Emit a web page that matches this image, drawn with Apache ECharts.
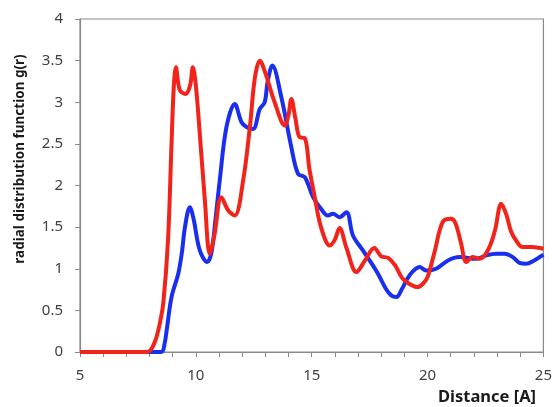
<!DOCTYPE html>
<html>
<head>
<meta charset="utf-8">
<script src="https://cdn.jsdelivr.net/npm/echarts@6/dist/echarts.min.js"></script>
<style>html,body{margin:0;padding:0;background:#fff}#c{width:555px;height:407px}</style>
</head>
<body>
<div id="c"></div>
<script>
var redX = [5,7.9,8.2,8.45,8.6,8.8,8.95,9.05,9.14,9.3,9.55,9.75,9.87,10.0,10.17,10.39,10.6,10.8,11.1,11.4,11.68,12.04,12.33,12.55,12.76,13.0,13.4,13.84,14.0,14.12,14.3,14.48,14.7,14.9,15.13,15.4,15.78,16.0,16.2,16.5,16.93,17.3,17.7,18.0,18.3,18.6,18.9,19.2,19.57,19.8,20.0,20.3,20.65,21.0,21.2,21.45,21.67,21.95,22.24,22.6,22.9,23.18,23.4,23.6,23.82,24.1,24.5,25];
var redY = [0,0,0.1,0.35,0.6,1.35,2.5,3.2,3.42,3.15,3.1,3.2,3.42,3.2,2.62,1.82,1.18,1.4,1.86,1.7,1.64,2.06,2.7,3.3,3.5,3.35,3.0,2.72,2.85,3.04,2.8,2.58,2.57,2.2,1.86,1.5,1.28,1.35,1.49,1.25,0.96,1.1,1.25,1.15,1.13,1.04,0.89,0.82,0.78,0.82,0.9,1.2,1.56,1.6,1.55,1.3,1.08,1.14,1.12,1.22,1.45,1.78,1.65,1.45,1.34,1.26,1.26,1.24];
var blueX = [5,8.5,8.65,8.74,8.95,9.24,9.4,9.53,9.74,9.9,10.17,10.49,10.67,10.85,11.03,11.32,11.68,11.97,12.2,12.47,12.76,12.97,13.1,13.3,13.69,14.12,14.41,14.7,15.06,15.4,15.7,15.92,16.2,16.5,16.78,17.21,17.5,17.86,18.2,18.43,18.65,18.9,19.22,19.66,19.94,20.37,20.88,21.38,22.1,22.53,22.96,23.32,23.68,23.97,24.25,24.6,25];
var blueY = [0,0,0.1,0.26,0.66,0.94,1.2,1.5,1.74,1.6,1.22,1.08,1.19,1.6,2.06,2.7,2.98,2.76,2.7,2.68,2.92,3.0,3.25,3.44,3.06,2.46,2.14,2.1,1.86,1.72,1.64,1.66,1.62,1.68,1.4,1.22,1.1,0.94,0.76,0.68,0.66,0.76,0.92,1.02,0.98,1.0,1.1,1.14,1.12,1.16,1.18,1.18,1.14,1.07,1.06,1.1,1.17];
var xTicks = [5,10,15,20,25];
var yTitle = 'radial distribution function g(r)';
var xTitle = 'Distance [A]';

function pairs(xs, ys){ return xs.map(function(x,i){ return [x, ys[i]]; }); }

var font = 'Noto Sans';
var chart = echarts.init(document.getElementById('c'), null, {renderer:'canvas'});
chart.setOption({
  animation:false,
  backgroundColor:'#fff',
  grid:{left:80, top:19, right:11, bottom:55, show:true, borderColor:'#8a8a8a', borderWidth:1.2},
  xAxis:{
    type:'value', min:5, max:25, interval:5,
    axisLine:{lineStyle:{color:'#8a8a8a', width:1.2}},
    axisTick:{show:true, length:5, lineStyle:{color:'#8a8a8a'}},
    minorTick:{show:true, splitNumber:5, length:5, lineStyle:{color:'#8a8a8a'}},
    splitLine:{show:false},
    axisLabel:{margin:16, fontSize:15, color:'#404040', fontFamily:font,
      formatter:function(v){ return xTicks.indexOf(v) >= 0 ? String(v) : ''; }}
  },
  yAxis:{
    type:'value', min:0, max:4, interval:0.5,
    axisLine:{show:true, lineStyle:{color:'#8a8a8a', width:1.2}},
    axisTick:{show:true, length:5, lineStyle:{color:'#8a8a8a'}},
    splitLine:{show:false},
    axisLabel:{margin:17, fontSize:15, color:'#404040', fontFamily:font}
  },
  graphic:[
    {type:'text', x:20, y:159, rotation:Math.PI/2,
      style:{text:yTitle, fill:'#1a1a1a', font:'bold 13.5px "Noto Sans"', textAlign:'center', textVerticalAlign:'middle'}},
    {type:'text', x:487, y:397,
      style:{text:xTitle, fill:'#1a1a1a', font:'bold 16.5px "Noto Sans"', textAlign:'center', textVerticalAlign:'middle'}}
  ],
  series:[
    {type:'line', data:pairs(blueX, blueY), smooth:0.35, showSymbol:false, symbol:'none',
      lineStyle:{color:'#1a2ef0', width:4}},
    {type:'line', data:pairs(redX, redY), smooth:0.35, showSymbol:false, symbol:'none',
      lineStyle:{color:'#f2231a', width:4}}
  ]
});
</script>
</body>
</html>
